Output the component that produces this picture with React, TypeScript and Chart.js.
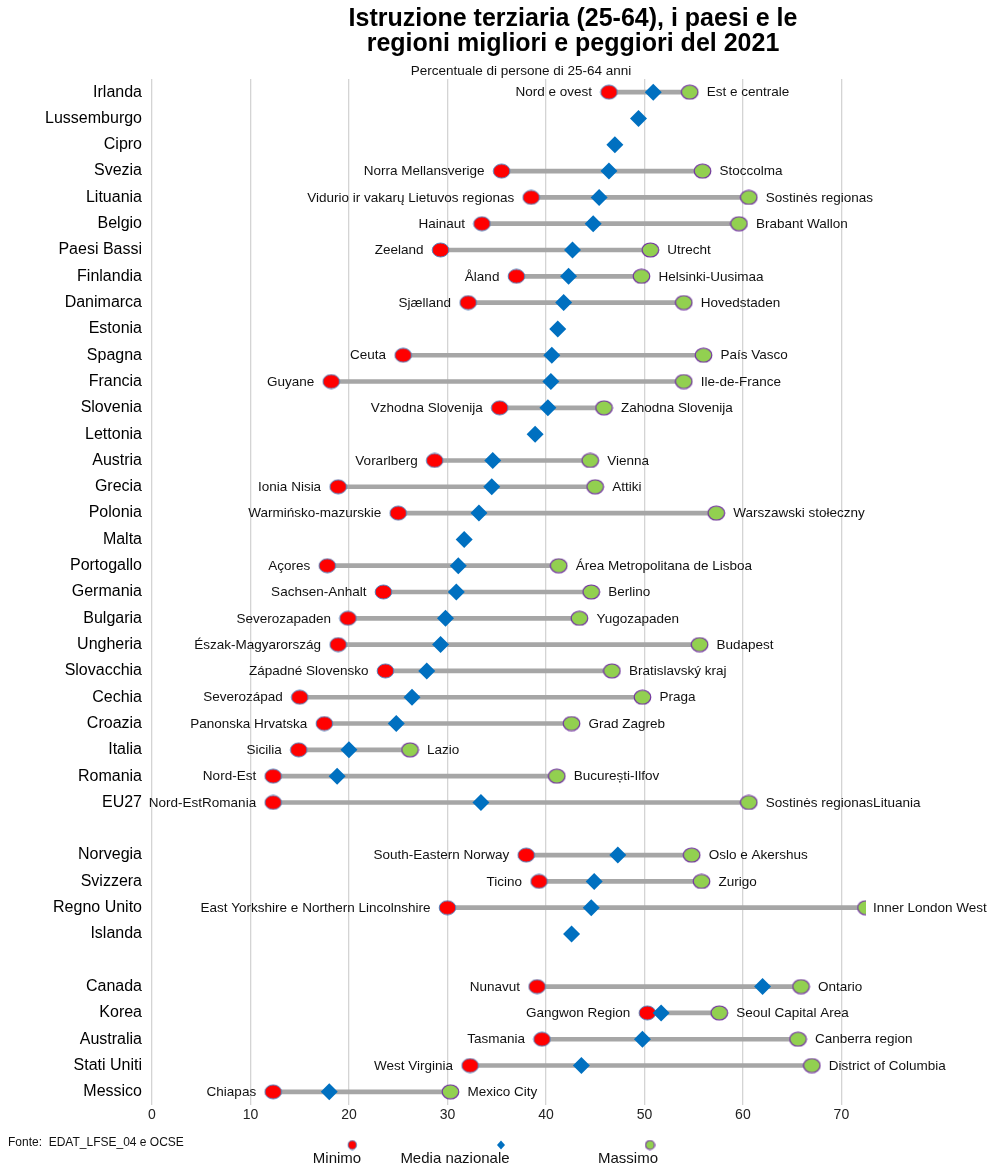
import React, { useEffect, useRef } from "react";
import { Chart, registerables } from "chart.js";

Chart.register(...registerables);

const countries = ['Irlanda','Lussemburgo','Cipro','Svezia','Lituania','Belgio','Paesi Bassi','Finlandia','Danimarca','Estonia','Spagna','Francia','Slovenia','Lettonia','Austria','Grecia','Polonia','Malta','Portogallo','Germania','Bulgaria','Ungheria','Slovacchia','Cechia','Croazia','Italia','Romania','EU27','','Norvegia','Svizzera','Regno Unito','Islanda','','Canada','Korea','Australia','Stati Uniti','Messico'];

const minValues = [46.4,null,null,35.5,38.5,33.5,29.3,37.0,32.1,null,25.5,18.2,35.3,null,28.7,18.9,25.0,null,17.8,23.5,19.9,18.9,23.7,15.0,17.5,14.9,12.3,12.3,null,38.0,39.3,30.0,null,null,39.1,50.3,39.6,32.3,12.3];
const avgValues = [50.9,49.4,47.0,46.4,45.4,44.8,42.7,42.3,41.8,41.2,40.6,40.5,40.2,38.9,34.6,34.5,33.2,31.7,31.1,30.9,29.8,29.3,27.9,26.4,24.8,20.0,18.8,33.4,null,47.3,44.9,44.6,42.6,null,62.0,51.7,49.8,43.6,18.0];
const maxValues = [54.6,null,null,55.9,60.6,59.6,50.6,49.7,54.0,null,56.0,54.0,45.9,null,44.5,45.0,57.3,null,41.3,44.6,43.4,55.6,46.7,49.8,42.6,26.2,41.1,60.6,null,54.8,55.8,72.5,null,null,65.9,57.6,65.6,67.0,30.3];

const minLabels = ['Nord e ovest','','','Norra Mellansverige','Vidurio ir vakarų Lietuvos regionas','Hainaut','Zeeland','Åland','Sjælland','','Ceuta','Guyane','Vzhodna Slovenija','','Vorarlberg','Ionia Nisia','Warmińsko-mazurskie','','Açores','Sachsen-Anhalt','Severozapaden','Észak-Magyarország','Západné Slovensko','Severozápad','Panonska Hrvatska','Sicilia','Nord-Est','Nord-EstRomania','','South-Eastern Norway','Ticino','East Yorkshire e Northern Lincolnshire','','','Nunavut','Gangwon Region','Tasmania','West Virginia','Chiapas'];
const maxLabels = ['Est e centrale','','','Stoccolma','Sostinės regionas','Brabant Wallon','Utrecht','Helsinki-Uusimaa','Hovedstaden','','País Vasco','Ile-de-France','Zahodna Slovenija','','Vienna','Attiki','Warszawski stołeczny','','Área Metropolitana de Lisboa','Berlino','Yugozapaden','Budapest','Bratislavský kraj','Praga','Grad Zagreb','Lazio','București-Ilfov','Sostinės regionasLituania','','Oslo e Akershus','Zurigo','Inner London West','','','Ontario','Seoul Capital Area','Canberra region','District of Columbia','Mexico City'];

const xTicks = [0, 10, 20, 30, 40, 50, 60, 70];

const titleLines = ['Istruzione terziaria (25-64), i paesi e le', 'regioni migliori e peggiori del 2021'];
const subtitle = 'Percentuale di persone di 25-64 anni';
const source = 'Fonte:  EDAT_LFSE_04 e OCSE';
const legendLabels = ['Minimo', 'Media nazionale', 'Massimo'];

const FONT = '"Liberation Sans", Arial, sans-serif';
const RED = '#ff0000';
const RED_BORDER = '#4f81bd';
const GREEN = '#92d050';
const GREEN_BORDER = '#7030a0';
const BLUE = '#0070c0';

function ellipseImage(fill: string, stroke: string, rx: number, ry: number, lw: number) {
  const c = document.createElement('canvas');
  const w = Math.ceil(rx * 2 + 2), h = Math.ceil(ry * 2 + 2);
  c.width = w; c.height = h;
  const g = c.getContext('2d')!;
  g.beginPath();
  g.ellipse(w / 2, h / 2, rx, ry, 0, 0, Math.PI * 2);
  g.fillStyle = fill;
  g.fill();
  g.lineWidth = lw;
  g.strokeStyle = stroke;
  g.stroke();
  return c;
}

export default function App() {
  const ref = useRef<HTMLCanvasElement | null>(null);

  useEffect(() => {
    const canvas = ref.current!;
    const redImg = ellipseImage(RED, RED_BORDER, 8.3, 7, 1);
    const greenImg = ellipseImage(GREEN, GREEN_BORDER, 8.3, 7, 1.2);

    const rangeData = countries.map((_, i) =>
      minValues[i] != null && maxValues[i] != null ? [minValues[i], maxValues[i]] : null
    );

    const decor = {
      id: 'decor',
      afterDatasetsDraw(chart: any) {
        const ctx = chart.ctx as CanvasRenderingContext2D;
        const xs = chart.scales.x;
        const ys = chart.scales.y;
        const right = chart.chartArea.right;
        ctx.save();
        ctx.font = `13.5px ${FONT}`;
        ctx.fillStyle = '#111';
        ctx.textBaseline = 'middle';
        countries.forEach((_, i) => {
          const y = ys.getPixelForValue(i) + 0.5;
          if (minValues[i] != null && minLabels[i]) {
            ctx.textAlign = 'right';
            ctx.fillText(minLabels[i], xs.getPixelForValue(minValues[i]) - 17, y);
          }
          if (maxValues[i] != null && maxLabels[i]) {
            ctx.textAlign = 'left';
            const px = Math.min(xs.getPixelForValue(maxValues[i]) + 17, right + 7);
            ctx.fillText(maxLabels[i], px, y);
          }
        });
        ctx.restore();
      },
      afterDraw(chart: any) {
        const ctx = chart.ctx as CanvasRenderingContext2D;
        ctx.save();
        ctx.fillStyle = '#000';
        ctx.textAlign = 'center';
        ctx.textBaseline = 'middle';
        ctx.font = `bold 25px ${FONT}`;
        ctx.fillText(titleLines[0], 573, 19);
        ctx.fillText(titleLines[1], 573, 44);
        ctx.font = `13.5px ${FONT}`;
        ctx.fillStyle = '#111';
        ctx.fillText(subtitle, 521, 71);

        ctx.textAlign = 'left';
        ctx.font = `12px ${FONT}`;
        ctx.fillText(source, 8, 1143);

        // legend markers
        ctx.drawImage(ellipseImage(RED, RED_BORDER, 4.2, 4.5, 1), 352 - 5.2, 1145 - 5.5);
        ctx.beginPath();
        ctx.moveTo(501, 1140.5); ctx.lineTo(505, 1145); ctx.lineTo(501, 1149.5); ctx.lineTo(497, 1145);
        ctx.closePath();
        ctx.fillStyle = BLUE; ctx.fill();
        ctx.drawImage(ellipseImage(GREEN, GREEN_BORDER, 4.5, 4.5, 1.2), 650 - 5.5, 1145 - 5.5);

        ctx.fillStyle = '#111';
        ctx.textAlign = 'center';
        ctx.font = `15px ${FONT}`;
        ctx.fillText(legendLabels[0], 337, 1159);
        ctx.fillText(legendLabels[1], 455, 1159);
        ctx.fillText(legendLabels[2], 628, 1159);
        ctx.restore();
      },
    };

    const chart = new Chart(canvas, {
      type: 'bar',
      data: {
        labels: countries,
        datasets: [
          {
            type: 'bar',
            label: 'range',
            data: rangeData as any,
            backgroundColor: '#a6a6a6',
            borderWidth: 0,
            barThickness: 4,
            order: 5,
          } as any,
          {
            type: 'line',
            label: 'Media nazionale',
            data: avgValues as any,
            showLine: false,
            pointStyle: 'rectRot',
            pointRadius: 8.5,
            pointBackgroundColor: BLUE,
            pointBorderColor: BLUE,
            pointBorderWidth: 0,
            clip: 0,
            order: 0,
          } as any,
          {
            type: 'line',
            label: 'Minimo',
            data: minValues as any,
            showLine: false,
            pointStyle: redImg,
            pointRadius: 8,
            clip: 0,
            order: 1,
          } as any,
          {
            type: 'line',
            label: 'Massimo',
            data: maxValues as any,
            showLine: false,
            pointStyle: greenImg,
            pointRadius: 8,
            clip: 0,
            order: 2,
          } as any,
        ],
      },
      options: {
        indexAxis: 'y',
        responsive: false,
        animation: false,
        events: [],
        layout: { padding: { top: 79, right: 139, left: 0, bottom: 0 } },
        plugins: {
          legend: { display: false },
          tooltip: { enabled: false },
          title: { display: false },
        },
        scales: {
          x: {
            type: 'linear',
            position: 'bottom',
            min: 0,
            max: 72.5,
            afterFit(scale: any) { scale.height = 61; },
            afterBuildTicks(scale: any) { scale.ticks = xTicks.map((v) => ({ value: v })); },
            ticks: {
              stepSize: 10,
              includeBounds: false,
              padding: 2,
              color: '#222',
              font: { family: FONT, size: 14 },
            },
            grid: { color: '#d4d4d4', lineWidth: 1.3, drawTicks: false },
            border: { display: false },
          },
          y: {
            type: 'category',
            offset: true,
            afterFit(scale: any) { scale.width = 152; },
            ticks: {
              autoSkip: false,
              padding: 10,
              color: '#000',
              font: { family: FONT, size: 16 },
            },
            grid: { display: false, drawTicks: false },
            border: { display: false },
          },
        },
      } as any,
      plugins: [decor],
    });
    return () => chart.destroy();
  }, []);

  return (
    <div style={{ position: 'absolute', left: 0, top: 0, width: 1005, height: 1166, background: '#fff' }}>
      <canvas ref={ref} width={1005} height={1166} style={{ display: 'block', width: 1005, height: 1166 }} />
    </div>
  );
}
